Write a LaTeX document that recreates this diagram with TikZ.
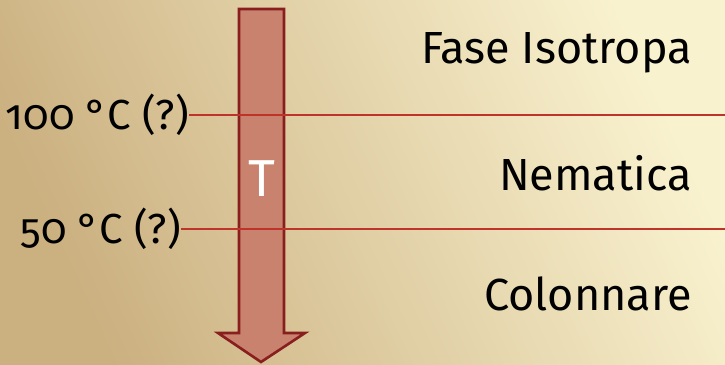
\documentclass[tikz,border=0pt]{standalone}
\usepackage{fontspec}
\setmainfont{Fira Sans}[Numbers=OldStyle]
\usetikzlibrary{calc}
\usetikzlibrary{positioning}
\definecolor{bgdark}{RGB}{203,176,128}
\definecolor{bglight}{RGB}{249,242,207}
\definecolor{arrowfill}{RGB}{200,130,110}
\definecolor{arrowrim}{RGB}{137,30,30}
\definecolor{tline}{RGB}{190,52,42}

\begin{document}
\begin{tikzpicture}[x=1pt, y=-1pt, L/.style = {inner sep=0, font=\fontsize{45}{52}\selectfont},
		border/.style={draw=tline, line width=1.3pt}
		]
		\useasboundingbox (0,0) rectangle (725,364);
		\shade[bottom color=bgdark, top color=bglight, shading angle=-65] (0,0) rectangle (725,364);
		% freccia della temperatura
		\draw[arrowrim, fill=arrowfill, line width=2.6pt, line join=miter]
			(239,9) -- (284,9) -- (284,333) -- (305,333) -- (261,362)
			-- (218,333) -- (239,333) -- cycle;
		\node[L, text=white, font=\fontsize{52}{56}\selectfont\addfontfeatures{FakeBold=-0.3}] (T) at (262,179) {T};
		
		\begin{scope}[nodes=L]
			\node[anchor=east, font=\fontsize{42}{50}\selectfont] (1) at (189,115) {100 °C (?)};
			\node[anchor=east, font=\fontsize{42}{50}\selectfont] (2) at (181,229) {50 °C (?)};
			\node[anchor=base east] (3) at (692,63)  {Fase Isotropa};
			\node[anchor=base east] (4) at (692,190) {Nematica};
			\node[anchor=base east] (5) at (692,310) {Colonnare};
		\end{scope}
		\coordinate (1r) at (725,115);
		\coordinate (2r) at (725,229);
		
		\draw (1) edge[border] (1r);
		\draw (2) edge[border] (2r);
	\end{tikzpicture}
\end{document}
